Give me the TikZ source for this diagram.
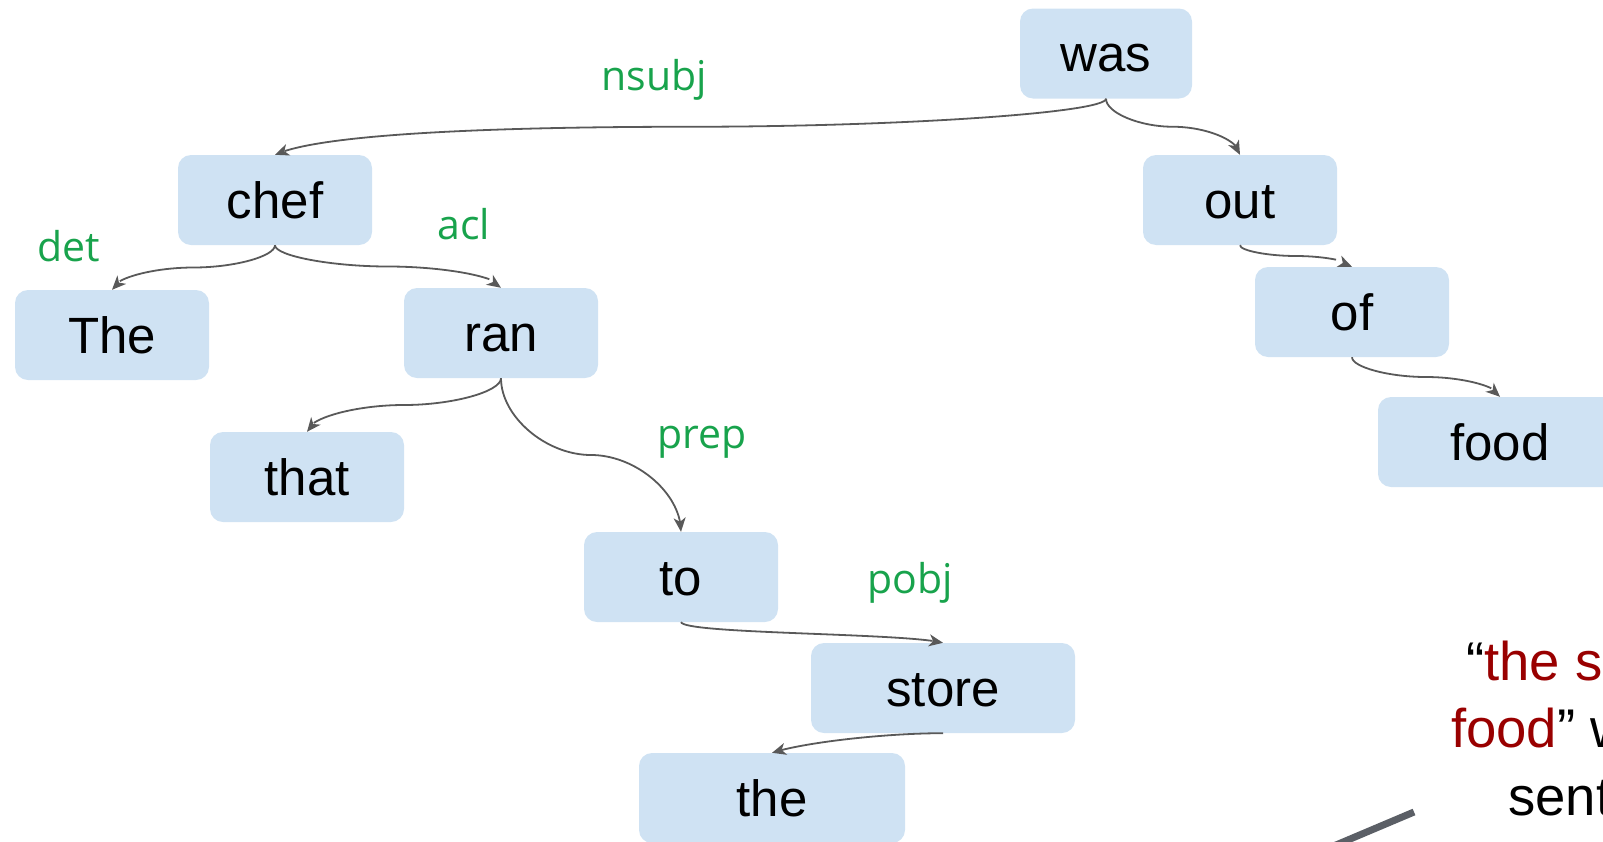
\documentclass[tikz,border=0pt]{standalone}
\usepackage{fontspec}
\setmainfont{Liberation Sans}
\newfontfamily\lblfont{Open Sans}
\usetikzlibrary{arrows.meta,bending,calc}

\definecolor{boxfill}{RGB}{207,226,243}
\definecolor{depline}{RGB}{89,89,89}
\definecolor{deplabel}{RGB}{24,163,76}
\definecolor{quotered}{RGB}{153,0,0}
\definecolor{pointer}{RGB}{91,95,102}

\tikzset{
  word/.style={fill=boxfill, rounded corners=13pt, inner sep=0pt,
    minimum width=194pt, minimum height=90pt,
    text height=36.5pt, text depth=0pt,
    font=\fontsize{51}{60}\selectfont},
  deplbl/.style={text=deplabel, inner sep=0pt, anchor=base,
    font=\lblfont\fontsize{41}{48}\selectfont},
  deparc/.style={draw=depline, line width=1.8pt,
    -{Stealth[length=14pt,width=12pt,inset=4pt,flex]}},
  % S-shaped connector: leaves and enters vertically, level at half height
  dep/.style={deparc,
    to path={let \p1=(\tikztostart), \p2=(\tikztotarget) in
      .. controls (\x1,{0.75*\y1+0.25*\y2}) and ({0.75*\x1+0.25*\x2},{0.5*\y1+0.5*\y2})
      .. ({0.5*\x1+0.5*\x2},{0.5*\y1+0.5*\y2})
      .. controls ({0.25*\x1+0.75*\x2},{0.5*\y1+0.5*\y2}) and (\x2,{0.25*\y1+0.75*\y2})
      .. (\tikztotarget)}},
  quoteline/.style={anchor=base west, inner sep=0pt,
    font=\fontsize{54.5}{66}\selectfont}
}

\begin{document}
\begin{tikzpicture}[x=1pt,y=-1pt]
\useasboundingbox (0,0) rectangle (1603,841);
\clip (0,0) rectangle (1603,841);

% word nodes of the dependency tree
\node[word, minimum width=172pt] (was)   at (1106,53.5) {was};
\node[word] (chef)  at (275,200)  {chef};
\node[word] (The)   at (112,335)  {The};
\node[word] (ran)   at (501,333)  {ran};
\node[word] (that)  at (307,477)  {that};
\node[word] (to)    at (681,577)  {to};
\node[word, minimum width=264pt] (store) at (943,688) {store};
\node[word, minimum width=266pt] (the)   at (772,798) {the};
\node[word] (out)   at (1240,200) {out};
\node[word] (of)    at (1352,312) {of};
\node[word, minimum width=244pt] (food)  at (1500,442) {food};

% dependency arcs
\coordinate (nsubjmid) at ($(was.south)!0.5!(chef.north)$);
\draw[deparc] (was.south) .. controls +(0,14) and +(210,0) .. (nsubjmid)
  .. controls +(-210,0) and +(42,-20) .. (chef.north);
\draw[dep] (was.south)   to (out.north);
\draw[dep] (chef.south)  to (The.north);
\draw[dep] (chef.south)  to (ran.north);
\draw[dep] (ran.south)   to (that.north);
\draw[dep] (ran.south)   to (to.north);
\draw[deparc] (to.south) .. controls +(5,12) and +(-40,-10) .. (store.north);
\draw[deparc] (store.south) .. controls +(-60,0) and +(30,-10) .. (the.north);
\draw[dep] (out.south)   to (of.north);
\draw[dep] (of.south)    to (food.north);

% relation labels
\node[deplbl] (l-nsubj) at (654,90)  {nsubj};
\node[deplbl] (l-det)   at (69,261)  {det};
\node[deplbl] (l-acl)   at (464,239) {acl};
\node[deplbl] (l-prep)  at (702,448) {prep};
\node[deplbl] (l-pobj)  at (910,593) {pobj};

% callout text and its pointer
\node[quoteline] (q1) at (1466,680) {“\textcolor{quotered}{the s}};
\node[quoteline] (q2) at (1451,747) {\textcolor{quotered}{food}” w};
\node[quoteline] (q3) at (1508,815) {sent};
\coordinate (ptrA) at (1414,812);
\coordinate (ptrB) at (1310,856);
\draw[pointer, line width=7pt] (ptrA) -- (ptrB);
\end{tikzpicture}
\end{document}
